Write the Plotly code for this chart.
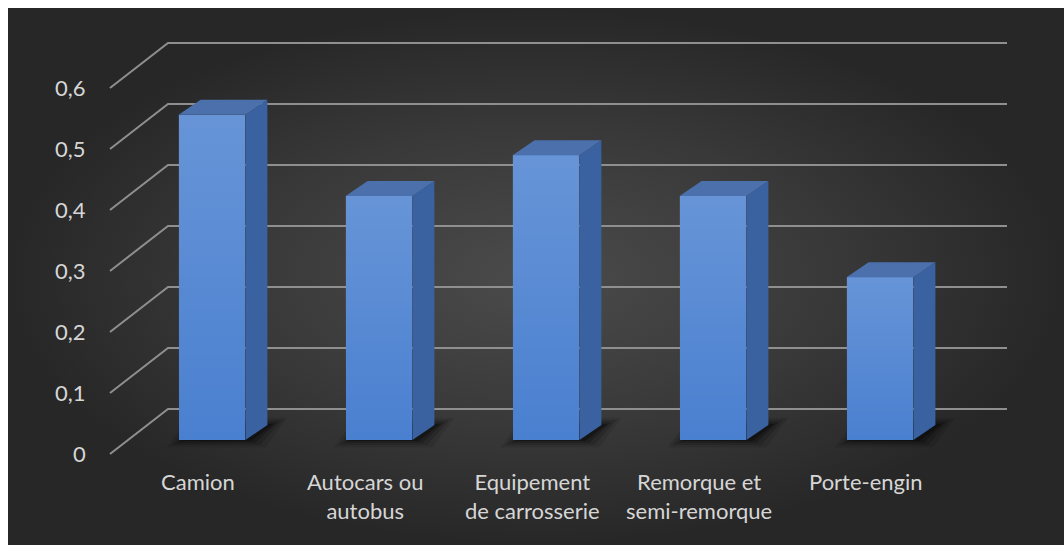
import plotly.graph_objects as go

# Data
categories = ["Camion", "Autocars ou<br>autobus", "Equipement<br>de carrosserie",
              "Remorque et<br>semi-remorque", "Porte-engin"]
values = [0.533, 0.4, 0.467, 0.4, 0.267]
tick_values = [0, 0.1, 0.2, 0.3, 0.4, 0.5, 0.6]
tick_labels = ["0", "0,1", "0,2", "0,3", "0,4", "0,5", "0,6"]

# Canvas and pseudo-3D geometry (pixels)
W, H = 1064, 545
ML, MT = 8, 8
CAT0_PX, CAT_STEP_PX = 212, 167      # centre of first bar, spacing between bars
ZERO_PY, UNIT_PX = 440, 610          # baseline of bar fronts, pixels per 1.0 of value


def px_x(px):
    return (px - CAT0_PX) / CAT_STEP_PX


def px_y(py):
    return (ZERO_PY - py) / UNIT_PX


HALF_W = 0.2                          # half bar width in category units
BDX, BDY = 22 / CAT_STEP_PX, 15 / UNIT_PX     # bar depth offset
WFX, WFY = px_x(110), -14 / UNIT_PX           # front edge of the side wall
WBX, WBY = px_x(168), 31 / UNIT_PX            # back wall left edge
WRX = px_x(1007)                              # back wall right edge

x_range = [px_x(ML), px_x(W)]
y_range = [px_y(H), px_y(MT)]

FONT = "Lato"
TEXT_COLOR = "#d6d6d6"
GRID_COLOR = "#8f8f8f"
FRONT = "#4a80d0"
SIDE = "#3a61a0"
TOP = "#4b70ac"

fig = go.Figure()

# --- back layer (x/y): background, walls, shadows ---
fig.add_trace(go.Scatter(
    x=[x_range[0], x_range[1], x_range[1], x_range[0], x_range[0]],
    y=[y_range[0], y_range[0], y_range[1], y_range[1], y_range[0]],
    mode="lines", line=dict(width=0), fill="toself",
    fillgradient=dict(type="radial",
                      colorscale=[[0, "#4b4b4b"], [0.55, "#393939"], [1, "#272727"]]),
    hoverinfo="skip", showlegend=False))

gx, gy = [], []
for t in tick_values:
    gx += [WFX, WBX, WRX, None]
    gy += [t + WFY, t + WBY, t + WBY, None]
fig.add_trace(go.Scatter(x=gx, y=gy, mode="lines",
                         line=dict(color=GRID_COLOR, width=2),
                         hoverinfo="skip", showlegend=False))

for i, v in enumerate(values):
    for grow, alpha in [(16, 0.10), (11, 0.15), (6, 0.22), (2, 0.3)]:
        gxp, gyp = grow / CAT_STEP_PX, grow / UNIT_PX * 0.45
        sh = 4 / CAT_STEP_PX
        xs = [i - HALF_W - gxp + sh, i + HALF_W + gxp + sh,
              i + HALF_W + BDX + gxp + sh, i - HALF_W + BDX - gxp + sh]
        ys = [-gyp, -gyp, BDY + gyp, BDY + gyp]
        fig.add_trace(go.Scatter(x=xs + xs[:1], y=ys + ys[:1], mode="lines",
                                 line=dict(width=0), fill="toself",
                                 fillcolor=f"rgba(0,0,0,{alpha})",
                                 hoverinfo="skip", showlegend=False))

# --- front layer (x2/y2): the columns ---
fig.add_trace(go.Bar(x=list(range(len(values))), y=values, width=2 * HALF_W,
                     marker=dict(color=FRONT, line=dict(width=0)),
                     hovertext=[c.replace("<br>", " ") for c in categories],
                     xaxis="x2", yaxis="y2", showlegend=False))

for i, v in enumerate(values):
    xl, xr = i - HALF_W, i + HALF_W
    # light sheen on the front face, brighter towards the top
    fig.add_trace(go.Scatter(
        x=[xl, xr, xr, xl, xl], y=[0, 0, v, v, 0],
        mode="lines", line=dict(width=0), fill="toself",
        fillgradient=dict(type="vertical",
                          colorscale=[[0, "rgba(255,255,255,0)"],
                                      [1, "rgba(255,255,255,0.16)"]]),
        xaxis="x2", yaxis="y2", hoverinfo="skip", showlegend=False))
    fig.add_trace(go.Scatter(
        x=[xr, xr + BDX, xr + BDX, xr, xr],
        y=[0, BDY, v + BDY, v, 0],
        mode="lines", line=dict(width=0), fill="toself", fillcolor=SIDE,
        xaxis="x2", yaxis="y2", hoverinfo="skip", showlegend=False))
    fig.add_trace(go.Scatter(
        x=[xl, xr, xr + BDX, xl + BDX, xl],
        y=[v, v, v + BDY, v + BDY, v],
        mode="lines", line=dict(width=0), fill="toself", fillcolor=TOP,
        xaxis="x2", yaxis="y2", hoverinfo="skip", showlegend=False))

annotations = []
for t, lab in zip(tick_values, tick_labels):
    annotations.append(dict(x=px_x(88), y=t + WFY + 1 / UNIT_PX, text=lab,
                            xanchor="right", yanchor="middle", showarrow=False,
                            font=dict(family=FONT, size=22, color=TEXT_COLOR)))
for i, c in enumerate(categories):
    annotations.append(dict(x=i - 14 / CAT_STEP_PX, y=px_y(466), text=c,
                            xanchor="center", yanchor="top", showarrow=False,
                            align="center",
                            font=dict(family=FONT, size=22, color=TEXT_COLOR)))

axis_common = dict(visible=False, fixedrange=True)
fig.update_layout(
    width=W, height=H,
    margin=dict(l=ML, r=0, t=MT, b=0, pad=0),
    paper_bgcolor="white", plot_bgcolor="#272727",
    xaxis=dict(range=x_range, **axis_common),
    yaxis=dict(range=y_range, **axis_common),
    xaxis2=dict(range=x_range, overlaying="x", **axis_common),
    yaxis2=dict(range=y_range, overlaying="y", **axis_common),
    annotations=annotations,
    bargap=0,
)

fig.write_html("out.html")
